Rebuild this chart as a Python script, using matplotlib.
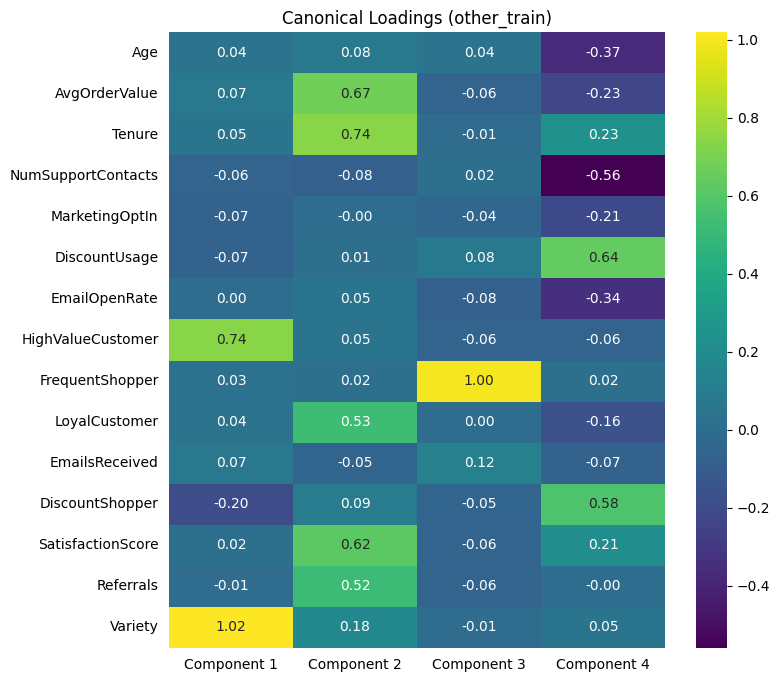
import numpy as np
import pandas as pd
import seaborn as sns
from matplotlib import pyplot as plt

features = ['Age', 'AvgOrderValue', 'Tenure', 'NumSupportContacts', 'MarketingOptIn',
            'DiscountUsage', 'EmailOpenRate', 'HighValueCustomer', 'FrequentShopper',
            'LoyalCustomer', 'EmailsReceived', 'DiscountShopper', 'SatisfactionScore',
            'Referrals', 'Variety']
components = ['Component 1', 'Component 2', 'Component 3', 'Component 4']

comp1 = [0.04, 0.07, 0.05, -0.06, -0.07, -0.07, 0.00, 0.74, 0.03, 0.04, 0.07, -0.20, 0.02, -0.01, 1.02]
comp2 = [0.08, 0.67, 0.74, -0.08, -0.001, 0.01, 0.05, 0.05, 0.02, 0.53, -0.05, 0.09, 0.62, 0.52, 0.18]
comp3 = [0.04, -0.06, -0.01, 0.02, -0.04, 0.08, -0.08, -0.06, 1.00, 0.00, 0.12, -0.05, -0.06, -0.06, -0.01]
comp4 = [-0.37, -0.23, 0.23, -0.56, -0.21, 0.64, -0.34, -0.06, 0.02, -0.16, -0.07, 0.58, 0.21, -0.001, 0.05]

loadings = pd.DataFrame(np.column_stack([comp1, comp2, comp3, comp4]),
                        index=features, columns=components)

W, H = 779, 682
fig = plt.figure(figsize=(W / 100, H / 100), dpi=100)
ax = fig.add_axes([169 / W, 1 - 648 / H, 496 / W, 616 / H])
cax = fig.add_axes([696 / W, 1 - 648 / H, 31 / W, 616 / H])
sns.heatmap(loadings, annot=True, fmt='.2f', cmap='viridis', ax=ax, cbar_ax=cax)
ax.set_title('Canonical Loadings (other_train)')
ax.tick_params(axis='both', length=0, pad=7.5)
plt.setp(ax.get_yticklabels(), rotation=0)
fig.savefig('out.png')
